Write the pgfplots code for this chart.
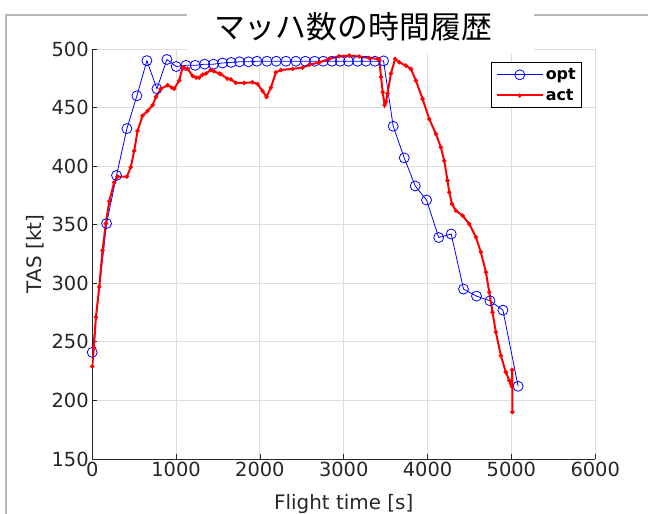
\documentclass[border=0pt]{standalone}
\usepackage{fontspec}
\setmainfont{DejaVu Sans}
\newfontfamily\cjk{Noto Sans CJK JP}
\usepackage{pgfplots}
\pgfplotsset{compat=1.18}
\definecolor{axgray}{gray}{0.15}
\definecolor{gridgray}{gray}{0.87}
\definecolor{framegray}{gray}{0.72}
\begin{document}
\begin{tikzpicture}[x=1bp,y=1bp]
\path[use as bounding box] (0,0) rectangle (648,514);
\begin{axis}[
  at={(110,47)}, anchor=south west,
  scale only axis, width=503bp, height=410bp,
  xmin=0, xmax=6000, ymin=150, ymax=500,
  xtick={0,1000,...,6000}, ytick={150,200,...,500},
  scaled x ticks=false, scaled y ticks=false,
  /pgf/number format/1000 sep={},
  /pgf/number format/assume math mode=true,
  axis x line*=bottom, axis y line*=left,
  axis line style={-, color=axgray, line width=0.8bp},
  tick align=inside, major tick length=5bp,
  tick style={color=axgray, line width=0.7bp},
  grid=major, grid style={color=gridgray, line width=0.8bp},
  ticklabel style={font=\fontsize{19.5}{19.5}\selectfont, color=axgray},
  xlabel={Flight time [s]}, ylabel={TAS [kt]},
  label style={font=\fontsize{20}{20}\selectfont, color=axgray},
  xlabel style={yshift=-10bp},
  ylabel style={yshift=1bp},
  legend cell align=left,
  legend style={at={(0.974,0.968)}, anchor=north east, draw=black, line width=0.8bp,
    font=\fontsize{16}{20}\selectfont\bfseries, inner sep=4bp, row sep=4bp},
  legend image code/.code={\draw[mark repeat=2,mark phase=2,#1] plot coordinates {(0bp,0bp) (23bp,0bp) (46bp,0bp)};},
]
\addplot[color=blue, line width=0.8bp, mark=o, mark size=5bp, mark options={line width=0.8bp}] coordinates {
(0,241)(171,351)(290,392)(414,432)(533,460)(652,490)(772,466)(891,491)
(1002,485)(1118,486)(1229,486)(1340,487)(1447,487)(1554,488)(1658,488.5)(1757,489)
(1864,489)(1965,489.5)(2084,489.5)(2195,489.5)(2311,489.5)(2430,489.5)(2542,489.5)
(2652,489.5)(2756,489.5)(2859,489.5)(2958,489.5)(3057,489.5)(3165,489.5)(3265,489.5)
(3372,489.5)(3475,489.8)(3590,434)(3722,407)(3853,383)(3988,371)(4133,339)(4282,342)
(4429,295)(4584,289)(4744,285)(4899,277)(5080,212)};
\addlegendentry{opt}
\addplot[color=red, line width=2bp, mark=*, mark size=1bp] coordinates {
(0,229)(20,245)(44,271)(84,297)(123,328)(163,351)(203,370)(262,386)(302,391)(413,391)
(460,399)(501,413)(541,430)(600,443)(660,447)(720,452)(760,459)(819,466)(899,469)
(950,467)(978,466)(1038,473)(1077,484)(1097,484)(1137,483)(1197,477)(1240,475.5)
(1276,475.5)(1316,478)(1356,479)(1415,482)(1450,481)(1515,479)(1535,478.5)(1614,474.5)
(1654,474)(1714,471)(1813,471)(1912,471.5)(1972,470)(2032,464)(2080,459)(2131,467)
(2191,480)(2251,482)(2390,483)(2509,484)(2589,486.5)(2708,488.5)(2827,491.5)
(2946,493.8)(3066,494.3)(3185,493.5)(3304,492.3)(3404,491.5)(3424,491)(3445,476)
(3465,463)(3488,452)(3505,455)(3523,462)(3563,479)(3614,491.5)(3662,488.6)(3741,485.8)
(3801,482.9)(3861,473)(3941,457.3)(4020,440.2)(4100,427.4)(4159,416)(4199,404.6)
(4238,387.6)(4259,377.7)(4291,367.7)(4338,362)(4418,357.7)(4497,350.6)(4577,339.3)
(4636,326.5)(4696,309.4)(4736,292.3)(4775,275.2)(4815,258.2)(4875,238.2)(4934,224)
(4974,217)(4994,214)(5005,212)(5010,226)(5012,190)};
\addlegendentry{act}
\end{axis}
% figure frame and title box
\draw[framegray, line width=1.5bp] (6,0) -- (6,499) -- (187,499);
\draw[framegray, line width=1.5bp] (534,499) -- (648,499);
\fill[white] (187,461) rectangle (534,514);
\node[font=\cjk\fontsize{31}{31}\selectfont, anchor=center] at (353,487) {マッハ数の時間履歴};
\end{tikzpicture}
\end{document}
